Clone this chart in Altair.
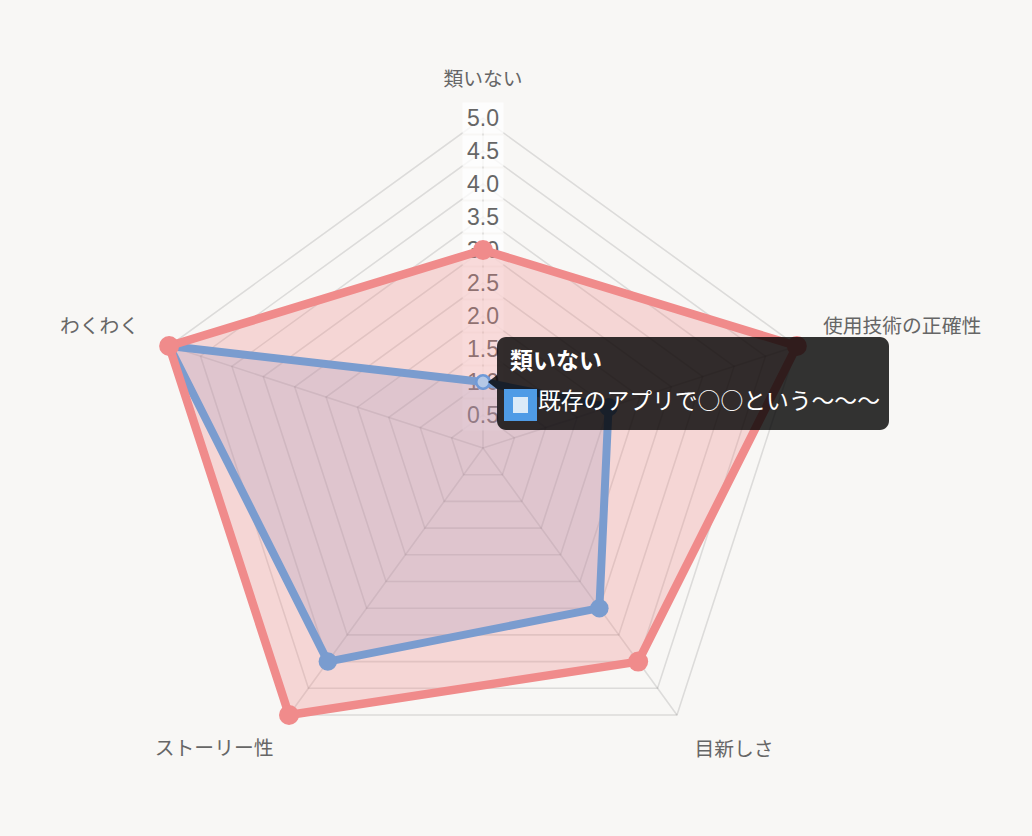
import math
import altair as alt
import pandas as pd

# ---------------- data ----------------
categories = ["類いない", "使用技術の正確性", "目新しさ", "ストーリー性", "わくわく"]
red_name = "データ1"
red_values = [3.0, 5.0, 4.0, 5.0, 5.0]
blue_name = "既存のアプリで○○という〜〜〜"
blue_values = [1.0, 2.0, 3.0, 4.0, 5.0]
tick_values = [0.5, 1.0, 1.5, 2.0, 2.5, 3.0, 3.5, 4.0, 4.5, 5.0]
tick_labels = ["0.5", "1.0", "1.5", "2.0", "2.5", "3.0", "3.5", "4.0", "4.5", "5.0"]
tooltip_title = "類いない"
tooltip_body = blue_name

# ---------------- layout / style ----------------
W, H = 1032, 836
CX, CY, UNIT = 483.0, 448.0, 66.0     # centre of the radar (px) and px per unit
LABEL_R = 5.4
N = len(categories)

BG = "#f8f7f5"
RED = "#f08b8b"
BLUE = "#7a9ccf"
GRID = "#000000"
TEXT = "#666666"
JP = "Noto Sans CJK JP"
NUM = "Liberation Sans"

xs = alt.Scale(domain=[-CX / UNIT, (W - CX) / UNIT], nice=False, zero=False)
ys = alt.Scale(domain=[-(H - CY) / UNIT, CY / UNIT], nice=False, zero=False)
X = alt.X("x:Q", scale=xs, axis=None)
Y = alt.Y("y:Q", scale=ys, axis=None)

ANG = f"datum.idx * 2 * PI / {N}"


def polar(chart, rfield="r"):
    return chart.transform_calculate(
        ang=ANG
    ).transform_calculate(
        x=f"datum.{rfield} * sin(datum.ang)",
        y=f"datum.{rfield} * cos(datum.ang)",
    )


# tables built from the arrays
grid_df = pd.DataFrame(
    [{"level": lv, "idx": i, "r": lv} for lv in tick_values for i in range(N)]
)
spoke_df = pd.DataFrame([{"idx": i, "r": max(tick_values), "x0": 0.0, "y0": 0.0} for i in range(N)])
tick_df = pd.DataFrame({"idx": 0, "r": tick_values, "label": tick_labels})
cat_df = pd.DataFrame({"idx": list(range(N)), "cat": categories, "r": LABEL_R})
red_df = pd.DataFrame({"idx": list(range(N)), "cat": categories, "r": red_values, "series": red_name})
blue_df = pd.DataFrame({"idx": list(range(N)), "cat": categories, "r": blue_values, "series": blue_name})
tip_df = blue_df[blue_df["cat"] == tooltip_title].assign(title=tooltip_title, body=tooltip_body)

# ---------------- layers ----------------
grid = polar(alt.Chart(grid_df)).mark_line(
    interpolate="linear-closed", stroke=GRID, strokeOpacity=0.11, strokeWidth=1.6
).encode(x=X, y=Y, detail="level:N", order="idx:Q")

spokes = polar(alt.Chart(spoke_df)).mark_rule(
    stroke=GRID, strokeOpacity=0.11, strokeWidth=1.6
).encode(
    x=alt.X("x0:Q", scale=xs, axis=None),
    y=alt.Y("y0:Q", scale=ys, axis=None),
    x2="x:Q", y2="y:Q",
)

backdrop = polar(alt.Chart(tick_df)).mark_rect(
    width=41, height=31, fill="#ffffff", opacity=0.75
).encode(x=X, y=Y)

ticks = polar(alt.Chart(tick_df)).mark_text(
    font=NUM, fontSize=23, color=TEXT, align="center", baseline="middle", dy=1
).encode(x=X, y=Y, text="label:N")

label_styles = {
    "類いない": dict(align="center", dx=0, dy=-12),
    "使用技術の正確性": dict(align="left", dx=1, dy=-11),
    "目新しさ": dict(align="left", dx=2, dy=14),
    "ストーリー性": dict(align="right", dx=0, dy=13),
    "わくわく": dict(align="right", dx=-5, dy=-11),
}
cat_layers = []
for c in categories:
    st = label_styles[c]
    cat_layers.append(
        polar(alt.Chart(cat_df)).transform_filter(alt.datum.cat == c).mark_text(
            font=JP, fontSize=19.8, color=TEXT, baseline="middle",
            align=st["align"], dx=st["dx"], dy=st["dy"],
        ).encode(x=X, y=Y, text="cat:N")
    )


def fill_layer(df, color, op):
    return polar(alt.Chart(df)).mark_line(
        interpolate="linear-closed", fill=color, fillOpacity=op, strokeOpacity=0
    ).encode(x=X, y=Y, order="idx:Q")


def line_layer(df, color, w):
    return polar(alt.Chart(df)).mark_line(
        interpolate="linear-closed", stroke=color, strokeWidth=w, strokeJoin="round"
    ).encode(x=X, y=Y, order="idx:Q")


def point_layer(df, color, size):
    return polar(alt.Chart(df)).mark_circle(
        color=color, size=size, opacity=1
    ).encode(x=X, y=Y)


blue_fill = fill_layer(blue_df, BLUE, 0.26)
red_fill = fill_layer(red_df, RED, 0.3)
blue_line = line_layer(blue_df, BLUE, 8)
red_line = line_layer(red_df, RED, 8.5)
blue_pts = point_layer(blue_df[blue_df["cat"] != tooltip_title], BLUE, 340)
red_pts = point_layer(red_df, RED, 400)

hover_pt = polar(alt.Chart(tip_df)).mark_point(
    shape="circle", size=180, filled=False, fill="#b5c8e6", fillOpacity=1,
    stroke="#6f9ad8", strokeWidth=2.5, opacity=1
).encode(x=X, y=Y)

# tooltip (anchored to the hovered point)
tip_box = polar(alt.Chart(tip_df)).mark_rect(
    color="#000000", opacity=0.8, cornerRadius=9,
    xOffset=14, x2Offset=406, yOffset=-45, y2Offset=48,
).encode(x=X, x2="x:Q", y=Y, y2="y:Q")

tip_caret = polar(alt.Chart(tip_df)).mark_point(
    shape="M 0.643 -1 L -0.643 0 L 0.643 1 Z", size=196, filled=True,
    color="#000000", opacity=0.8, strokeWidth=0, xOffset=9.5,
).encode(x=X, y=Y)

tip_sw_outer = polar(alt.Chart(tip_df)).mark_rect(
    color="#4f9be6", opacity=1,
    xOffset=21, x2Offset=54, yOffset=7, y2Offset=39,
).encode(x=X, x2="x:Q", y=Y, y2="y:Q")

tip_sw_inner = polar(alt.Chart(tip_df)).mark_rect(
    color="#dbeaf8", opacity=1,
    xOffset=30, x2Offset=45, yOffset=15, y2Offset=31,
).encode(x=X, x2="x:Q", y=Y, y2="y:Q")

tip_title = polar(alt.Chart(tip_df)).mark_text(
    font=JP, fontSize=23, fontWeight="bold", color="#ffffff",
    align="left", baseline="middle", dx=27, dy=-20,
).encode(x=X, y=Y, text="title:N")

tip_body = polar(alt.Chart(tip_df)).mark_text(
    font=JP, fontSize=22.8, color="#ffffff",
    align="left", baseline="middle", dx=55, dy=20,
).encode(x=X, y=Y, text="body:N")

chart = alt.layer(
    grid, spokes, backdrop, ticks, *cat_layers,
    blue_fill, red_fill, blue_line, red_line, blue_pts, red_pts, hover_pt,
    tip_box, tip_caret, tip_sw_outer, tip_sw_inner, tip_title, tip_body,
).properties(
    width=W, height=H, background=BG, padding=0,
    autosize=alt.AutoSizeParams(type="none"),
).configure_view(strokeWidth=0)

chart.save("out.html", embed_options={"renderer": "svg", "actions": False})
